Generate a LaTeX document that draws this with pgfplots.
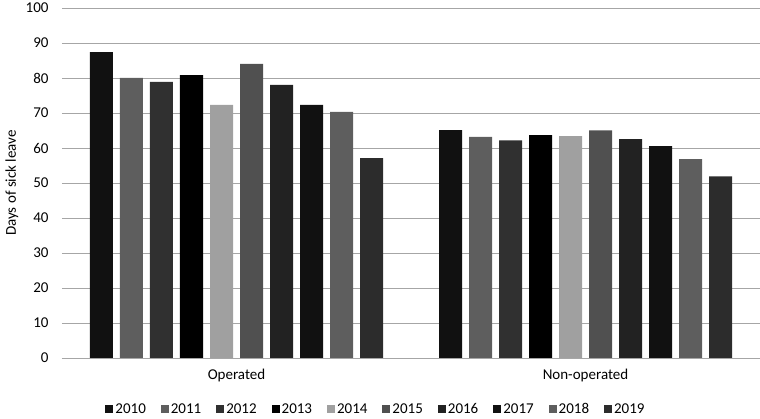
\documentclass[border=0pt]{standalone}
\usepackage{pgfplots}
\pgfplotsset{compat=1.18}
\usepackage{fontspec}
\setmainfont{Carlito}
\definecolor{c10}{HTML}{111111}
\definecolor{c11}{HTML}{5E5E5E}
\definecolor{c12}{HTML}{303030}
\definecolor{c13}{HTML}{000000}
\definecolor{c14}{HTML}{A0A0A0}
\definecolor{c15}{HTML}{505050}
\definecolor{c16}{HTML}{222222}
\definecolor{c17}{HTML}{111111}
\definecolor{c18}{HTML}{5E5E5E}
\definecolor{c19}{HTML}{2C2C2C}
\definecolor{gridc}{HTML}{A6A6A6}
\begin{document}
\begin{tikzpicture}
\path[use as bounding box] (-62pt,-61pt) rectangle (698pt,358pt);
\begin{axis}[
  at={(0pt,0pt)}, anchor=south west,
  scale only axis, width=698pt, height=350pt,
  ymin=0, ymax=100, ytick={0,10,...,100},
  xmin=-0.5, xmax=1.5, xtick={0,1}, xticklabels={Operated,Non-operated},
  ybar=7pt, bar width=23pt,
  axis line style={draw=none},
  ymajorgrids, grid style={gridc, line width=0.8pt},
  major tick length=0pt,
  tick label style={font=\fontsize{15}{17}\selectfont, text=black},
  yticklabel style={xshift=-10pt},
  xticklabel style={yshift=-8pt},
  /pgf/number format/assume math mode=true,
  ylabel={Days of sick leave},
  every axis y label/.style={at={(-50pt,175pt)}, rotate=90, anchor=center, font=\fontsize{15}{17}\selectfont},
  legend style={at={(314pt,-51pt)}, anchor=center, draw=none, font=\fontsize{15}{17}\selectfont,
    legend columns=10, /tikz/every even column/.append style={column sep=13pt}},
  legend image code/.code={\fill[#1] (-2pt,-4pt) rectangle (6pt,4pt);},
  clip=false,
]
\draw[gridc, line width=0.8pt] (axis cs:-0.5,0) -- (axis cs:1.5,0);
\addplot[fill=c10, draw=none] coordinates {(0,87.4) (1,65.1)};
\addplot[fill=c11, draw=none] coordinates {(0,80.0) (1,63.2)};
\addplot[fill=c12, draw=none] coordinates {(0,78.9) (1,62.2)};
\addplot[fill=c13, draw=none] coordinates {(0,80.8) (1,63.7)};
\addplot[fill=c14, draw=none] coordinates {(0,72.3) (1,63.4)};
\addplot[fill=c15, draw=none] coordinates {(0,84.0) (1,65.0)};
\addplot[fill=c16, draw=none] coordinates {(0,78.0) (1,62.5)};
\addplot[fill=c17, draw=none] coordinates {(0,72.3) (1,60.5)};
\addplot[fill=c18, draw=none] coordinates {(0,70.3) (1,56.8)};
\addplot[fill=c19, draw=none] coordinates {(0,57.1) (1,51.9)};
\legend{2010,2011,2012,2013,2014,2015,2016,2017,2018,2019}
\end{axis}
\end{tikzpicture}
\end{document}
